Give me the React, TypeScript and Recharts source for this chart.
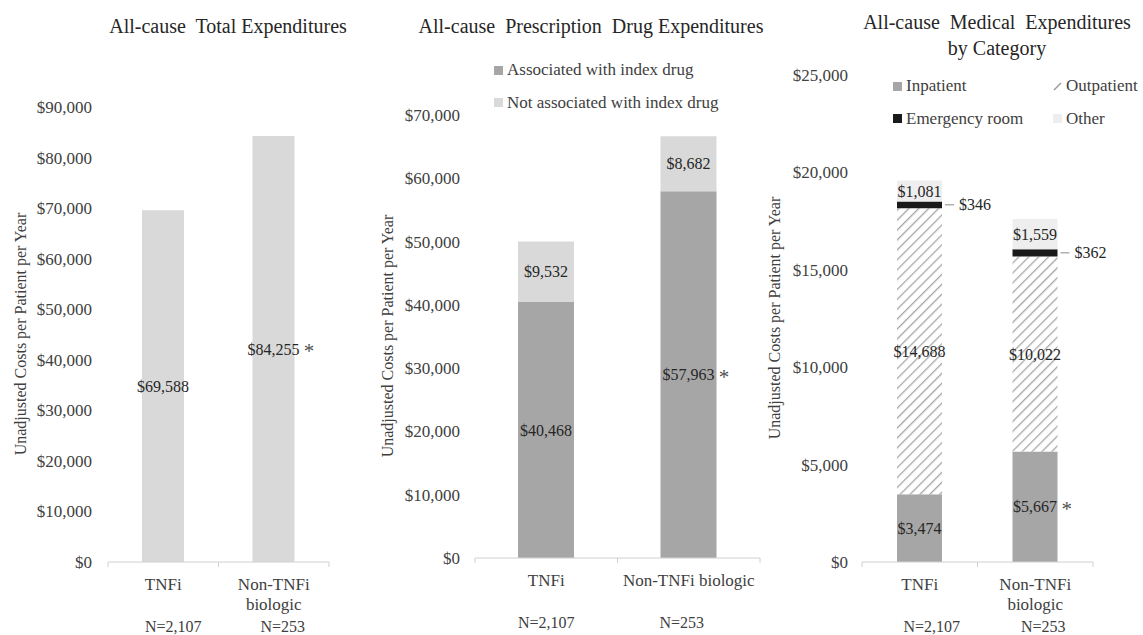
import { BarChart, Bar, XAxis, YAxis, LabelList, Legend } from 'recharts';

const SERIF = '"Liberation Serif", "DejaVu Serif", serif';
const TEXT = '#404040';

// categories + sample sizes
const groups = ['TNFi', 'Non-TNFi biologic'];
const groupLinesTwoRow = [['TNFi'], ['Non-TNFi', 'biologic']];
const groupLinesOneRow = [['TNFi'], ['Non-TNFi biologic']];
const nLabels = ['N=2,107', 'N=253'];

// panel 1: total
const totalCost = [69588, 84255];
const totalStar = [false, true];
const ticksTotal = [0, 10000, 20000, 30000, 40000, 50000, 60000, 70000, 80000, 90000];

// panel 2: prescription drugs
const rxAssoc = [40468, 57963];
const rxAssocStar = [false, true];
const rxNotAssoc = [9532, 8682];
const ticksRx = [0, 10000, 20000, 30000, 40000, 50000, 60000, 70000];

// panel 3: medical by category
const inpatient = [3474, 5667];
const inpatientStar = [false, true];
const outpatient = [14688, 10022];
const emergency = [346, 362];
const otherMed = [1081, 1559];
const ticksMed = [0, 5000, 10000, 15000, 20000, 25000];

const totalData = groups.map((g, i) => ({ group: g, total: totalCost[i] }));
const rxData = groups.map((g, i) => ({ group: g, assoc: rxAssoc[i], notAssoc: rxNotAssoc[i] }));
const medData = groups.map((g, i) => ({
  group: g,
  inpatient: inpatient[i],
  outpatient: outpatient[i],
  er: emergency[i],
  other: otherMed[i],
}));

const money = (v: number) => '$' + Number(v).toLocaleString('en-US');

// category tick: label lines, N= line, and little ticks on the band edges
const GroupTick = (props: any) => {
  const { x, y, payload, lines, nShift } = props;
  const i = payload.index;
  const half = payload.offset ?? 0;
  return (
    <g>
      <line x1={x - half} x2={x - half} y1={y} y2={y + 5} stroke="#d0d0d0" />
      <line x1={x + half} x2={x + half} y1={y} y2={y + 5} stroke="#d0d0d0" />
      {lines[i].map((t: string, k: number) => (
        <text key={k} x={x} y={y + 22 + k * 20} dy="0.35em" textAnchor="middle" fontSize={17} fill={TEXT} fontFamily={SERIF}>
          {t}
        </text>
      ))}
      <text x={x + nShift[i]} y={y + 64} dy="0.35em" textAnchor="middle" fontSize={16} fill={TEXT} fontFamily={SERIF}>
        {nLabels[i]}
      </text>
    </g>
  );
};

const insideLabel = (stars?: boolean[]) => (p: any) => {
  const { x, y, width, height, value, index } = p;
  const cx = x + width / 2;
  const cy = y + height / 2;
  const txt = money(value);
  return (
    <g>
      <text x={cx} y={cy} dy="0.35em" textAnchor="middle" fontSize={16} fill="#262626" fontFamily={SERIF}>
        {txt}
      </text>
      {stars && stars[index] && (
        <text x={cx + txt.length * 3.6 + 5} y={cy + 9} textAnchor="start" fontSize={21} fill="#505050" fontFamily={SERIF}>
          *
        </text>
      )}
    </g>
  );
};

const sideLabel = (p: any) => {
  const { x, y, width, height, value } = p;
  const cy = y + height / 2;
  const x0 = x + width;
  return (
    <g>
      <line x1={x0 + 3} x2={x0 + 12} y1={cy} y2={cy} stroke="#8a8a8a" />
      <text x={x0 + 17} y={cy} dy="0.35em" fontSize={16} fill="#262626" fontFamily={SERIF}>
        {money(value)}
      </text>
    </g>
  );
};

const yTick = { fontSize: 17, fill: TEXT, fontFamily: SERIF };

const LegendBox = ({ payload, cols, order }: any) => {
  const items = order
    .map((k: string) => (payload || []).find((e: any) => e.dataKey === k))
    .filter(Boolean);
  return (
    <div
      style={{
        display: 'grid',
        gridTemplateColumns: `repeat(${cols}, 160px)`,
        fontFamily: SERIF,
        fontSize: 17,
        color: TEXT,
        whiteSpace: 'nowrap',
      }}
    >
      {items.map((e: any) => (
        <div key={e.value} style={{ display: 'flex', alignItems: 'center', height: 32.5 }}>
          <svg width={9} height={9} style={{ marginRight: 4, flexShrink: 0 }}>
            {e.dataKey === 'outpatient' ? (
              <line x1={1} y1={8} x2={8} y2={1} stroke="#999" strokeWidth={1.4} />
            ) : (
              <rect width={9} height={9} fill={e.color} />
            )}
          </svg>
          <span>{e.value}</span>
        </div>
      ))}
    </div>
  );
};

const Title = ({ cx, top, children }: any) => (
  <div
    style={{
      position: 'absolute',
      left: cx - 200,
      width: 400,
      top,
      textAlign: 'center',
      fontFamily: SERIF,
      fontSize: 20,
      lineHeight: '26px',
      color: '#262626',
      whiteSpace: 'pre',
    }}
  >
    {children}
  </div>
);

const YTitle = ({ cx, cy }: any) => (
  <div
    style={{
      position: 'absolute',
      left: cx - 170,
      top: cy - 10,
      width: 340,
      height: 20,
      lineHeight: '20px',
      textAlign: 'center',
      transform: 'rotate(-90deg)',
      fontFamily: SERIF,
      fontSize: 16,
      color: TEXT,
      whiteSpace: 'nowrap',
    }}
  >
    Unadjusted Costs per Patient per Year
  </div>
);

export default function App() {
  return (
    <div style={{ position: 'absolute', left: 0, top: 0, width: 1143, height: 635, background: '#fff', overflow: 'hidden' }}>
      {/* panel 1 */}
      <div style={{ position: 'absolute', left: 0, top: 0 }}>
        <BarChart width={380} height={635} data={totalData} margin={{ top: 107, right: 51, bottom: 13, left: 8 }}>
          <XAxis
            dataKey="group"
            height={60}
            tickSize={0}
            tickMargin={0}
            tickLine={false}
            axisLine={{ stroke: '#d0d0d0' }}
            interval={0}
            tick={(p: any) => <GroupTick {...p} lines={groupLinesTwoRow} nShift={[10, 9]} />}
          />
          <YAxis width={100} domain={[0, 90000]} ticks={ticksTotal} tickFormatter={money} tickLine={false} axisLine={false} tickMargin={10} tick={yTick} />
          <Bar dataKey="total" fill="#d9d9d9" barSize={42} isAnimationActive={false}>
            <LabelList dataKey="total" content={insideLabel(totalStar)} />
          </Bar>
        </BarChart>
      </div>

      {/* panel 2 */}
      <div style={{ position: 'absolute', left: 370, top: 0 }}>
        <BarChart width={400} height={635} data={rxData} margin={{ top: 115, right: 10, bottom: 17, left: 5 }}>
          <XAxis
            dataKey="group"
            height={60}
            tickSize={0}
            tickMargin={0}
            tickLine={false}
            axisLine={{ stroke: '#d0d0d0' }}
            interval={0}
            tick={(p: any) => <GroupTick {...p} lines={groupLinesOneRow} nShift={[0, -7]} />}
          />
          <YAxis width={100} domain={[0, 70000]} ticks={ticksRx} tickFormatter={money} tickLine={false} axisLine={false} tickMargin={9} tick={yTick} />
          <Legend
            layout="horizontal"
            verticalAlign="middle"
            align="center"
            wrapperStyle={{ left: 124, top: 54, width: 280, height: 66 }}
            content={(p: any) => <LegendBox payload={p.payload} cols={1} order={['assoc', 'notAssoc']} />}
          />
          <Bar dataKey="assoc" name="Associated with index drug" stackId="a" fill="#a6a6a6" barSize={56} isAnimationActive={false}>
            <LabelList dataKey="assoc" content={insideLabel(rxAssocStar)} />
          </Bar>
          <Bar dataKey="notAssoc" name="Not associated with index drug" stackId="a" fill="#d9d9d9" barSize={56} isAnimationActive={false}>
            <LabelList dataKey="notAssoc" content={insideLabel()} />
          </Bar>
        </BarChart>
      </div>

      {/* panel 3 */}
      <div style={{ position: 'absolute', left: 760, top: 0 }}>
        <BarChart width={383} height={635} data={medData} margin={{ top: 75, right: 50, bottom: 13, left: 2 }}>
          <defs>
            <pattern id="hatch" width="7" height="7" patternUnits="userSpaceOnUse" patternTransform="rotate(45)">
              <rect width="7" height="7" fill="#fff" />
              <line x1="0" y1="0" x2="0" y2="7" stroke="#a6a6a6" strokeWidth="2.6" />
            </pattern>
          </defs>
          <XAxis
            dataKey="group"
            height={60}
            tickSize={0}
            tickMargin={0}
            tickLine={false}
            axisLine={{ stroke: '#d0d0d0' }}
            interval={0}
            tick={(p: any) => <GroupTick {...p} lines={groupLinesTwoRow} nShift={[12, 8]} />}
          />
          <YAxis width={100} domain={[0, 25000]} ticks={ticksMed} tickFormatter={money} tickLine={false} axisLine={false} tickMargin={8} tick={yTick} />
          <Legend
            layout="horizontal"
            verticalAlign="middle"
            align="center"
            wrapperStyle={{ left: 133, top: 70, width: 330, height: 66 }}
            content={(p: any) => <LegendBox payload={p.payload} cols={2} order={['inpatient', 'outpatient', 'er', 'other']} />}
          />
          <Bar dataKey="inpatient" name="Inpatient" stackId="m" fill="#a6a6a6" barSize={45} isAnimationActive={false}>
            <LabelList dataKey="inpatient" content={insideLabel(inpatientStar)} />
          </Bar>
          <Bar dataKey="outpatient" name="Outpatient" stackId="m" fill="url(#hatch)" barSize={45} isAnimationActive={false}>
            <LabelList dataKey="outpatient" content={insideLabel()} />
          </Bar>
          <Bar dataKey="er" name="Emergency room" stackId="m" fill="#1a1a1a" barSize={45} isAnimationActive={false}>
            <LabelList dataKey="er" content={sideLabel} />
          </Bar>
          <Bar dataKey="other" name="Other" stackId="m" fill="#eeeeee" barSize={45} isAnimationActive={false}>
            <LabelList dataKey="other" content={insideLabel()} />
          </Bar>
        </BarChart>
      </div>

      <Title cx={228} top={13}>All-cause  Total Expenditures</Title>
      <Title cx={591} top={13}>All-cause  Prescription  Drug Expenditures</Title>
      <Title cx={997} top={9}>
        {'All-cause  Medical  Expenditures\nby Category'}
      </Title>

      <YTitle cx={21} cy={334} />
      <YTitle cx={388} cy={336} />
      <YTitle cx={775} cy={318} />
    </div>
  );
}
